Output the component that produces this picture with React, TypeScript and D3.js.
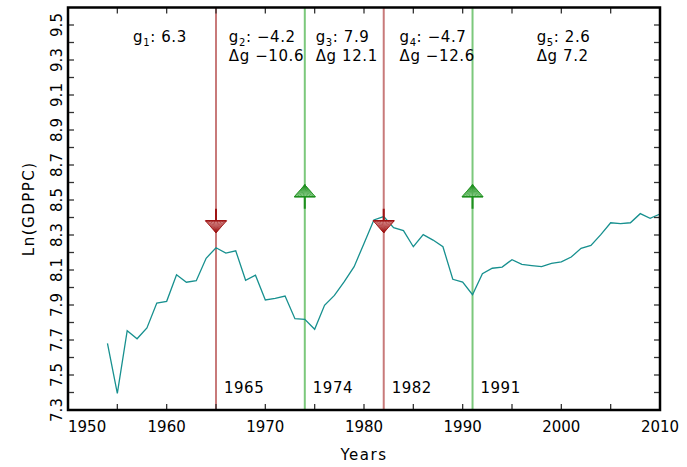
import React from "react";
import * as d3 from "d3";

// ---- data ----
const startYear = 1954;
const lnGdppc = [
  7.681, 7.395, 7.753, 7.707, 7.769, 7.911, 7.921, 8.073, 8.03, 8.039,
  8.167, 8.227, 8.197, 8.21, 8.041, 8.07, 7.929, 7.938, 7.951, 7.822,
  7.818, 7.761, 7.898, 7.955, 8.033, 8.119, 8.252, 8.386, 8.405, 8.342,
  8.325, 8.233, 8.302, 8.271, 8.233, 8.047, 8.031, 7.959, 8.079, 8.11,
  8.117, 8.159, 8.132, 8.125, 8.119, 8.138, 8.146, 8.174, 8.224, 8.241,
  8.302, 8.37, 8.365, 8.37, 8.422, 8.395, 8.42,
];
const breakYears = [1965, 1974, 1982, 1991];
const breakTypes = ["peak", "trough", "peak", "trough"];
const markerLevel = 8.45;
const segGrowth = ["6.3", "\u22124.2", "7.9", "\u22124.7", "2.6"];
const segDelta = [null, "\u221210.6", "12.1", "\u221212.6", "7.2"];
const segLabelYears = [1956.6, 1966.3, 1975.1, 1983.6, 1997.5];
const xTickValues = [1950, 1955, 1960, 1965, 1970, 1975, 1980, 1985, 1990, 1995, 2000, 2005, 2010];
const xTickLabels = [1950, 1960, 1970, 1980, 1990, 2000, 2010];
const yTickLabels = ["7.3", "7.5", "7.7", "7.9", "8.1", "8.3", "8.5", "8.7", "8.9", "9.1", "9.3", "9.5"];

const W = 687;
const H = 467;
const FONT = "'DejaVu Sans', sans-serif";

export default function App() {
  const x = d3.scaleLinear().domain([1950, 2010]).range([68, 660]);
  const y = d3.scaleLinear().domain([7.3, 9.6]).range([410, 7.5]);
  const pts: [number, number][] = lnGdppc.map((v, i) => [startYear + i, v]);
  const line = d3
    .line<[number, number]>()
    .x((d) => x(d[0]))
    .y((d) => y(d[1]));
  const yMinor = d3.range(0, 23).map((i) => +(7.3 + i * 0.1).toFixed(2));
  const [x0, x1] = x.range();
  const yb = y(7.3);
  const yt = y(9.6);
  const tick = 6;

  const markers = breakYears.map((yr, i) => {
    const cx = x(yr);
    const cy = y(markerLevel);
    const isPeak = breakTypes[i] === "peak";
    const dark = isPeak ? "#9e1414" : "#1d8f1d";
    const fill = isPeak ? "#e2a6a6" : "#a6dca6";
    const dir = isPeak ? 1 : -1;
    const stemEnd = cy + dir * 12;
    const tip = stemEnd + dir * 12;
    const half = 10.5;
    const fan = d3.range(-half, half + 0.1, 1.75);
    return (
      <g key={"m" + i}>
        <line x1={cx} x2={cx} y1={cy} y2={stemEnd} stroke={dark} strokeWidth={2} />
        <polygon
          points={`${cx - half},${stemEnd} ${cx + half},${stemEnd} ${cx},${tip}`}
          fill={fill}
          stroke={dark}
          strokeWidth={0.8}
        />
        {fan.map((f, j) => (
          <line key={j} x1={cx + f} y1={stemEnd} x2={cx} y2={tip} stroke={dark} strokeWidth={0.6} />
        ))}
        <line x1={cx - half} x2={cx + half} y1={stemEnd} y2={stemEnd} stroke={dark} strokeWidth={1.5} />
      </g>
    );
  });

  return (
    <svg
      width={W}
      height={H}
      style={{ position: "absolute", left: 0, top: 0, background: "#fff" }}
      fontFamily={FONT}
    >
      <rect x={0} y={0} width={W} height={H} fill="#fff" />
      {/* break lines */}
      {breakYears.map((yr, i) => (
        <line
          key={"b" + i}
          x1={x(yr)}
          x2={x(yr)}
          y1={yt}
          y2={yb}
          stroke={breakTypes[i] === "peak" ? "#c87a7a" : "#7cc87c"}
          strokeWidth={2}
        />
      ))}
      {/* series */}
      <path d={line(pts) || ""} fill="none" stroke="#17908f" strokeWidth={1.3} />
      {markers}
      {/* break year labels */}
      {breakYears.map((yr, i) => (
        <text key={"bl" + i} x={x(yr) + 8} y={393} fontSize={15} letterSpacing={0.5} fill="#000">
          {yr}
        </text>
      ))}
      {/* segment annotations */}
      {segGrowth.map((g, i) => (
        <g key={"s" + i}>
          <text x={x(segLabelYears[i])} y={42} fontSize={15} letterSpacing={0.6} fill="#000">
            g
            <tspan dy={4} fontSize={10}>
              {i + 1}
            </tspan>
            <tspan dy={-4}>{": " + g}</tspan>
          </text>
          {segDelta[i] !== null && (
            <text x={x(segLabelYears[i])} y={61} fontSize={15} letterSpacing={0.6} fill="#000">
              {"\u0394g " + segDelta[i]}
            </text>
          )}
        </g>
      ))}
      {/* ticks */}
      {xTickValues.map((v) => (
        <g key={"xt" + v}>
          <line x1={x(v)} x2={x(v)} y1={yb} y2={yb - tick} stroke="#333" strokeWidth={1.3} />
          <line x1={x(v)} x2={x(v)} y1={yt} y2={yt + tick} stroke="#333" strokeWidth={1.3} />
        </g>
      ))}
      {yMinor.map((v) => (
        <g key={"yt" + v}>
          <line x1={x0} x2={x0 + tick} y1={y(v)} y2={y(v)} stroke="#333" strokeWidth={1.3} />
          <line x1={x1} x2={x1 - tick} y1={y(v)} y2={y(v)} stroke="#333" strokeWidth={1.3} />
        </g>
      ))}
      {/* frame */}
      <rect x={x0} y={yt} width={x1 - x0} height={yb - yt} fill="none" stroke="#000" strokeWidth={2.5} />
      {/* x tick labels */}
      {xTickLabels.map((v, i) => (
        <text
          key={"xl" + v}
          x={x(v)}
          y={432}
          fontSize={15}
          textAnchor={i === 0 ? "start" : "middle"}
          fill="#000"
        >
          {v}
        </text>
      ))}
      {/* y tick labels */}
      {yTickLabels.map((t) => (
        <text
          key={"yl" + t}
          transform={`translate(62,${y(+t)}) rotate(-90)`}
          fontSize={15}
          textAnchor="middle"
          fill="#000"
        >
          {t}
        </text>
      ))}
      <text x={(x0 + x1) / 2} y={460} fontSize={15} textAnchor="middle" letterSpacing={1.5} fill="#000">
        Years
      </text>
      <text
        transform={`translate(34,${(yb + yt) / 2}) rotate(-90)`}
        fontSize={15}
        textAnchor="middle"
        letterSpacing={1.5}
        fill="#000"
      >
        Ln(GDPPC)
      </text>
    </svg>
  );
}
